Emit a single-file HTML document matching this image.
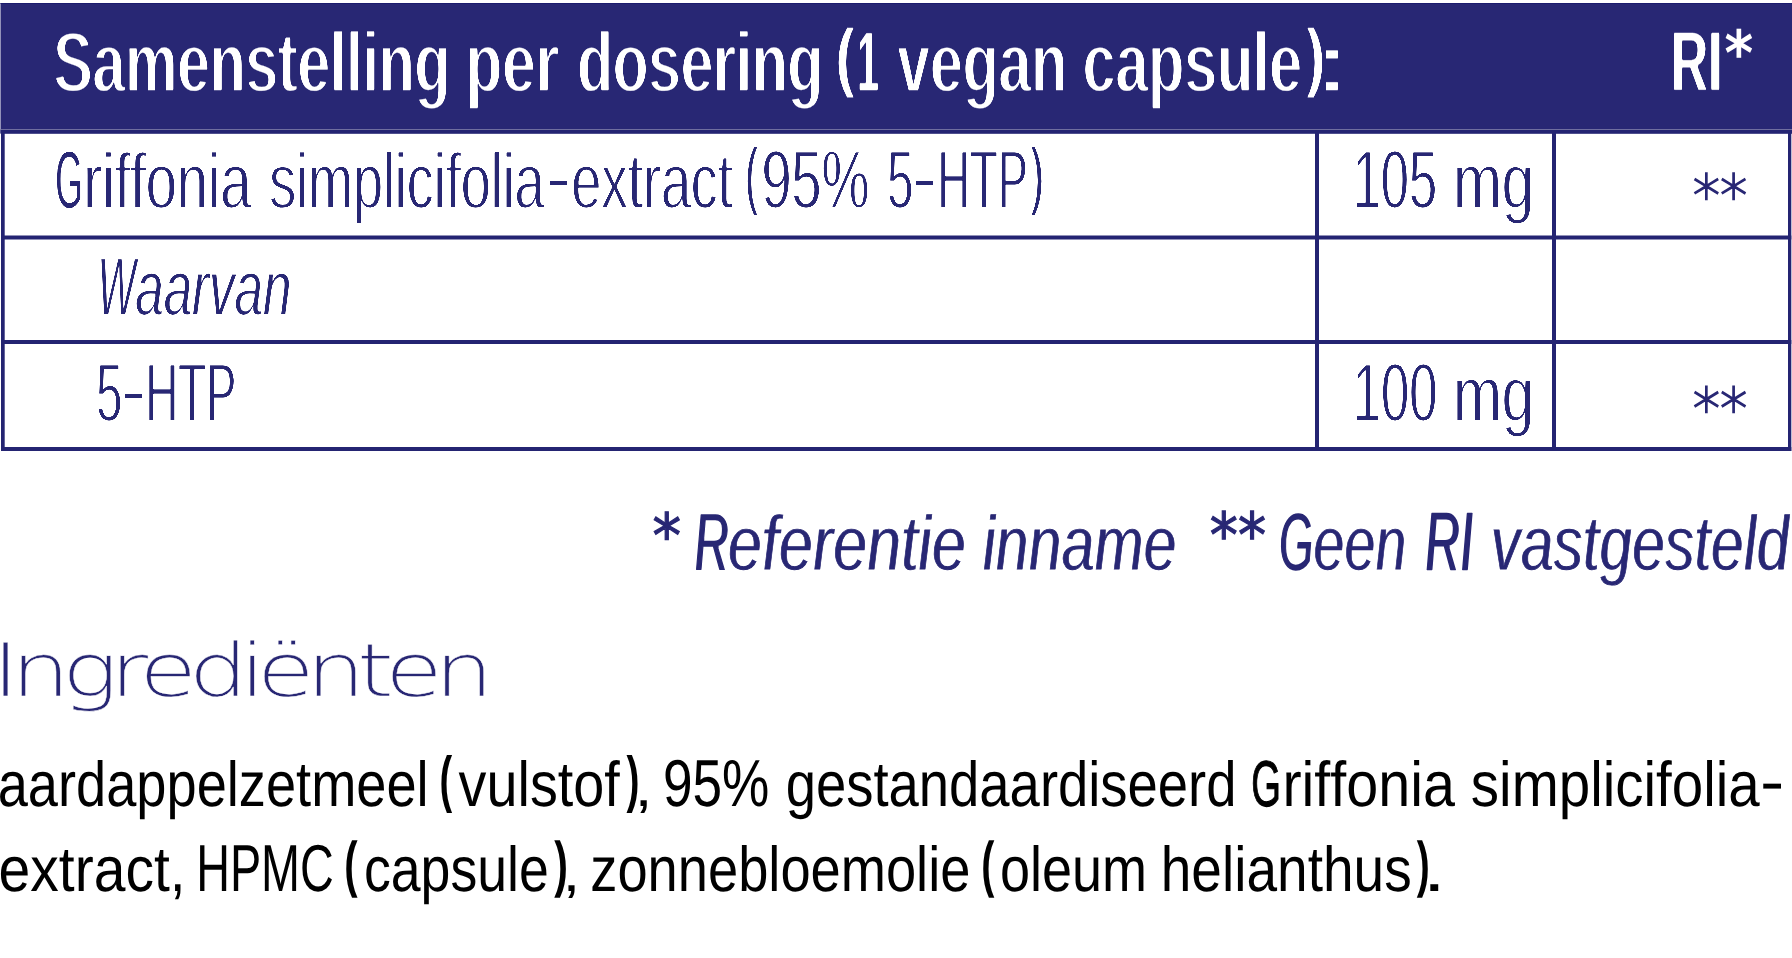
<!DOCTYPE html>
<html lang="nl"><head><meta charset="utf-8"><title>Samenstelling</title>
<style>
html,body{margin:0;padding:0;background:#fff;width:1792px;height:958px;overflow:hidden}
svg{display:block}
text{font-kerning:none;font-variant-ligatures:none;white-space:pre;text-rendering:geometricPrecision}
</style></head><body>
<svg width="1792" height="958" viewBox="0 0 1792 958">
<defs>
<filter id="ev1" x="-1%" y="-25%" width="102%" height="150%" color-interpolation-filters="sRGB"><feMorphology operator="erode" radius="0 1"/></filter>
<filter id="fh" x="-1%" y="-25%" width="102%" height="150%" color-interpolation-filters="sRGB"><feMorphology operator="erode" radius="0 1"/><feGaussianBlur stdDeviation="0.7 0.9"/><feComponentTransfer><feFuncA type="linear" slope="3" intercept="-1.75"/></feComponentTransfer></filter>
<filter id="fb" x="-1%" y="-25%" width="102%" height="150%" color-interpolation-filters="sRGB"><feMorphology operator="erode" radius="0 1"/><feGaussianBlur stdDeviation="0.7 0"/><feComponentTransfer><feFuncA type="linear" slope="3" intercept="-1.6"/></feComponentTransfer></filter>
</defs>
<rect x="0.5" y="3" width="1791.5" height="130.5" fill="#282774"/>
<rect x="0.5" y="3" width="1791.5" height="1" fill="#1b1b6e"/>
<rect x="0.5" y="129" width="1791.5" height="1" fill="#6f6e9f"/>
<rect x="0.5" y="130" width="1791.5" height="3.6" fill="#242472"/>
<rect x="1" y="133" width="3.70" height="318" fill="#242472"/>
<rect x="1315" y="133" width="4.00" height="318" fill="#242472"/>
<rect x="1552" y="133" width="4.00" height="318" fill="#242472"/>
<rect x="1788" y="133" width="3.30" height="318" fill="#242472"/>
<rect x="1" y="235.5" width="1790.3" height="4.0" fill="#242472"/>
<rect x="1" y="340" width="1790.3" height="4" fill="#242472"/>
<rect x="1" y="447" width="1790.3" height="4" fill="#242472"/>
<g filter="url(#fh)"><text y="92.1" font-size="86.2" fill="#ffffff" style='font-family:"Liberation Sans",sans-serif;font-weight:bold;font-style:normal'><tspan x="53.56" y="92.1" textLength="396.80" lengthAdjust="spacingAndGlyphs">Samenstelling</tspan> <tspan x="465.60" y="92.1" textLength="93.26" lengthAdjust="spacingAndGlyphs">per</tspan> <tspan x="577.16" y="92.1" textLength="245.93" lengthAdjust="spacingAndGlyphs">dosering</tspan> <tspan x="835.27" y="83.3" font-size="78.53" textLength="20.24" lengthAdjust="spacingAndGlyphs">(</tspan><tspan x="857.62" y="91.1" font-size="85.3" stroke="#ffffff" stroke-width="2.0" textLength="20.94" lengthAdjust="spacingAndGlyphs">1</tspan> <tspan x="897.32" y="92.1" textLength="169.77" lengthAdjust="spacingAndGlyphs">vegan</tspan> <tspan x="1082.75" y="92.1" textLength="219.21" lengthAdjust="spacingAndGlyphs">capsule</tspan><tspan x="1305.49" y="83.3" font-size="78.53" textLength="19.94" lengthAdjust="spacingAndGlyphs">)</tspan><tspan x="1317.84" y="92.1" textLength="28.42" lengthAdjust="spacingAndGlyphs">:</tspan></text></g>
<g filter="url(#fh)"><text y="91.05" font-size="86.0" fill="#ffffff" stroke="#ffffff" stroke-width="1.5" stroke-linejoin="round" style='font-family:"Liberation Sans",sans-serif;font-weight:bold;font-style:normal'><tspan x="1671.06" y="91.05" textLength="51.38" lengthAdjust="spacingAndGlyphs">RI</tspan></text></g>
<text y="75.10" font-size="62.45" fill="#ffffff" style='font-family:"DejaVu Sans",sans-serif;font-weight:bold;font-style:normal'><tspan x="1724.40" textLength="28.70" lengthAdjust="spacingAndGlyphs">*</tspan></text>
<g filter="url(#fb)"><text y="208.0" font-size="78.5" fill="#282774" style='font-family:"Liberation Sans",sans-serif;font-weight:normal;font-style:normal'><tspan x="55.31" y="208" font-size="81.39999999999999" stroke="#282774" stroke-width="1.2" textLength="27.60" lengthAdjust="spacingAndGlyphs">G</tspan><tspan x="83.62" y="208" textLength="167.75" lengthAdjust="spacingAndGlyphs">riffonia</tspan> <tspan x="269.13" y="208" textLength="275.44" lengthAdjust="spacingAndGlyphs">simplicifolia</tspan><tspan x="546.62" y="204" textLength="24.06" lengthAdjust="spacingAndGlyphs">-</tspan><tspan x="571.14" y="208" textLength="161.62" lengthAdjust="spacingAndGlyphs">extract</tspan> <tspan x="745.71" y="199.89" font-size="72.99" stroke="#282774" stroke-width="2" textLength="11.49" lengthAdjust="spacingAndGlyphs">(</tspan><tspan x="761.50" y="208" font-size="82.6" textLength="107.89" lengthAdjust="spacingAndGlyphs">95%</tspan> <tspan x="887.24" y="208" font-size="82.6" textLength="26.21" lengthAdjust="spacingAndGlyphs">5</tspan><tspan x="912.87" y="205" font-size="82.6" textLength="23.65" lengthAdjust="spacingAndGlyphs">-</tspan><tspan x="937.42" y="208" font-size="82.6" textLength="90.43" lengthAdjust="spacingAndGlyphs">HTP</tspan><tspan x="1031.41" y="199.89" font-size="72.99" stroke="#282774" stroke-width="2" textLength="11.88" lengthAdjust="spacingAndGlyphs">)</tspan></text></g>
<g filter="url(#fb)"><text y="208.0" font-size="82.6" fill="#282774" style='font-family:"Liberation Sans",sans-serif;font-weight:normal;font-style:normal'><tspan x="1352.78" y="208" textLength="84.31" lengthAdjust="spacingAndGlyphs">105</tspan> <tspan x="1453.26" y="208" font-size="78.5" textLength="80.86" lengthAdjust="spacingAndGlyphs">mg</tspan></text></g>
<text y="216.01" font-size="57.89" fill="#282774" stroke="#282774" stroke-width="1.5" style='font-family:"DejaVu Sans",sans-serif;font-weight:200;font-style:normal'><tspan x="1692.70" textLength="54.72" lengthAdjust="spacingAndGlyphs">**</tspan></text>
<g filter="url(#fb)"><text y="315.1" font-size="78.5" fill="#282774" stroke="#282774" stroke-width="0.3" stroke-linejoin="round" style='font-family:"Liberation Sans",sans-serif;font-weight:normal;font-style:italic'><tspan x="97.64" y="315.1" font-size="82.6" textLength="37.81" lengthAdjust="spacingAndGlyphs">W</tspan><tspan x="135.28" y="315.1" textLength="156.06" lengthAdjust="spacingAndGlyphs">aarvan</tspan></text></g>
<g filter="url(#fb)"><text y="420.6" font-size="82.6" fill="#282774" style='font-family:"Liberation Sans",sans-serif;font-weight:normal;font-style:normal'><tspan x="96.24" y="420.6" textLength="26.21" lengthAdjust="spacingAndGlyphs">5</tspan><tspan x="121.64" y="417.6" textLength="23.92" lengthAdjust="spacingAndGlyphs">-</tspan><tspan x="145.41" y="420.6" textLength="90.76" lengthAdjust="spacingAndGlyphs">HTP</tspan></text></g>
<g filter="url(#fb)"><text y="420.6" font-size="82.6" fill="#282774" style='font-family:"Liberation Sans",sans-serif;font-weight:normal;font-style:normal'><tspan x="1352.77" y="420.6" textLength="84.58" lengthAdjust="spacingAndGlyphs">100</tspan> <tspan x="1453.26" y="420.6" font-size="78.5" textLength="80.86" lengthAdjust="spacingAndGlyphs">mg</tspan></text></g>
<text y="429.25" font-size="57.67" fill="#282774" stroke="#282774" stroke-width="1.5" style='font-family:"DejaVu Sans",sans-serif;font-weight:200;font-style:normal'><tspan x="1692.71" textLength="54.72" lengthAdjust="spacingAndGlyphs">**</tspan></text>
<text y="556.84" font-size="60.96" fill="#282774" stroke="#282774" stroke-width="1.2" style='font-family:"DejaVu Sans",sans-serif;font-weight:normal;font-style:italic'><tspan x="652.61" textLength="28.53" lengthAdjust="spacingAndGlyphs">*</tspan></text>
<g filter="url(#ev1)"><text y="570.15" font-size="77.8" fill="#282774" stroke="#282774" stroke-width="0.9" stroke-linejoin="round" transform="translate(0,570.15) skewX(1.72) translate(0,-570.15)" style='font-family:"Liberation Sans",sans-serif;font-weight:normal;font-style:italic'><tspan x="695.01" y="570.15" font-size="81.2" stroke="#282774" stroke-width="2.0" textLength="34.79" lengthAdjust="spacingAndGlyphs">R</tspan><tspan x="728.38" y="570.15" textLength="238.07" lengthAdjust="spacingAndGlyphs">eferentie</tspan> <tspan x="983.14" y="570.15" textLength="194.00" lengthAdjust="spacingAndGlyphs">inname</tspan></text></g>
<text y="556.66" font-size="62.05" fill="#282774" stroke="#282774" stroke-width="1.2" style='font-family:"DejaVu Sans",sans-serif;font-weight:normal;font-style:italic'><tspan x="1209.87" textLength="56.26" lengthAdjust="spacingAndGlyphs">**</tspan></text>
<g filter="url(#ev1)"><text y="570.15" font-size="77.8" fill="#282774" stroke="#282774" stroke-width="0.9" stroke-linejoin="round" transform="translate(0,570.15) skewX(1.72) translate(0,-570.15)" style='font-family:"Liberation Sans",sans-serif;font-weight:normal;font-style:italic'><tspan x="1280.11" y="570.15" font-size="81.2" stroke="#282774" stroke-width="2.0" textLength="33.77" lengthAdjust="spacingAndGlyphs">G</tspan><tspan x="1313.93" y="570.15" textLength="93.21" lengthAdjust="spacingAndGlyphs">een</tspan> <tspan x="1425.71" y="570.15" font-size="82.8" stroke="#282774" stroke-width="2.4" textLength="48.59" lengthAdjust="spacingAndGlyphs">RI</tspan> <tspan x="1491.85" y="570.15" textLength="298.20" lengthAdjust="spacingAndGlyphs">vastgesteld</tspan></text></g>
<text y="696.3" font-size="73.5" fill="#282774" stroke="#ffffff" stroke-width="0.4" letter-spacing="-6.8" style='font-family:"DejaVu Sans",sans-serif;font-weight:200;font-style:normal'><tspan x="-8.24" y="696.3" textLength="493.30" lengthAdjust="spacingAndGlyphs">Ingrediënten</tspan></text>
<text y="805.5" font-size="63.5" fill="#000000" style='font-family:"Liberation Sans",sans-serif;font-weight:normal;font-style:normal'><tspan x="-2.30" y="805.5" textLength="430.93" lengthAdjust="spacingAndGlyphs">aardappelzetmeel</tspan> <tspan x="439.51" y="800.09" font-size="62.22" font-weight="bold" textLength="12.63" lengthAdjust="spacingAndGlyphs">(</tspan><tspan x="458.61" y="805.5" textLength="161.21" lengthAdjust="spacingAndGlyphs">vulstof</tspan><tspan x="626.56" y="800.09" font-size="62.22" font-weight="bold" textLength="12.98" lengthAdjust="spacingAndGlyphs">)</tspan><tspan x="634.44" y="805.5" font-size="54" textLength="18.12" lengthAdjust="spacingAndGlyphs">,</tspan> <tspan x="663.01" y="805.5" font-size="66.4" textLength="106.39" lengthAdjust="spacingAndGlyphs">95%</tspan> <tspan x="785.71" y="805.5" textLength="450.79" lengthAdjust="spacingAndGlyphs">gestandaardiseerd</tspan> <tspan x="1251.24" y="805.5" font-size="64.80000000000001" stroke="#000000" stroke-width="1.2" textLength="29.66" lengthAdjust="spacingAndGlyphs">G</tspan><tspan x="1282.38" y="805.5" textLength="172.62" lengthAdjust="spacingAndGlyphs">riffonia</tspan> <tspan x="1470.83" y="805.5" textLength="288.97" lengthAdjust="spacingAndGlyphs">simplicifolia</tspan><tspan x="1759.96" y="803.4" textLength="24.28" lengthAdjust="spacingAndGlyphs">-</tspan></text>
<text y="890.5" font-size="63.5" fill="#000000" style='font-family:"Liberation Sans",sans-serif;font-weight:normal;font-style:normal'><tspan x="-1.42" y="890.5" textLength="187.05" lengthAdjust="spacingAndGlyphs">extract,</tspan> <tspan x="196.17" y="890.5" font-size="66.4" textLength="137.61" lengthAdjust="spacingAndGlyphs">HPMC</tspan> <tspan x="344.21" y="885.18" font-size="61.79" font-weight="bold" textLength="13.33" lengthAdjust="spacingAndGlyphs">(</tspan><tspan x="363.92" y="890.5" textLength="184.86" lengthAdjust="spacingAndGlyphs">capsule</tspan><tspan x="554.36" y="885.18" font-size="61.79" font-weight="bold" textLength="13.69" lengthAdjust="spacingAndGlyphs">)</tspan><tspan x="562.43" y="890.5" font-size="54" textLength="17.83" lengthAdjust="spacingAndGlyphs">,</tspan> <tspan x="590.30" y="890.5" textLength="380.11" lengthAdjust="spacingAndGlyphs">zonnebloemolie</tspan> <tspan x="981.34" y="885.18" font-size="61.79" font-weight="bold" textLength="13.10" lengthAdjust="spacingAndGlyphs">(</tspan><tspan x="999.93" y="890.5" textLength="147.03" lengthAdjust="spacingAndGlyphs">oleum</tspan> <tspan x="1160.78" y="890.5" textLength="250.90" lengthAdjust="spacingAndGlyphs">helianthus</tspan><tspan x="1416.76" y="885.18" font-size="61.79" font-weight="bold" textLength="12.98" lengthAdjust="spacingAndGlyphs">)</tspan><tspan x="1422.72" y="890.5" textLength="23.05" lengthAdjust="spacingAndGlyphs">.</tspan></text>
</svg>
</body></html>
